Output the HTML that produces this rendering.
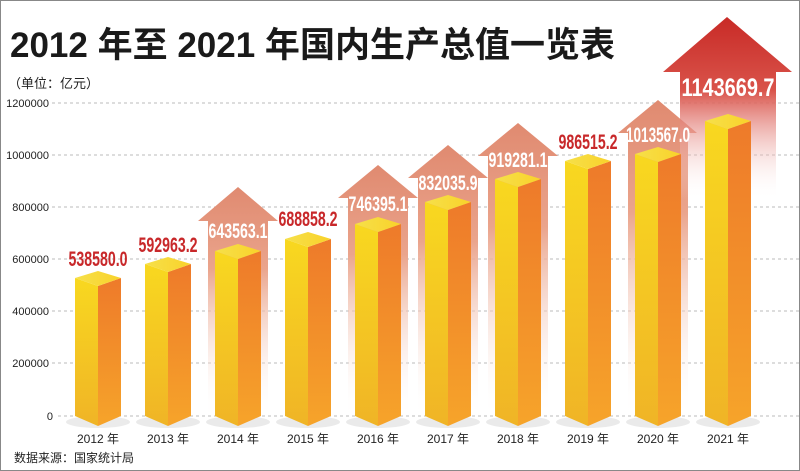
<!DOCTYPE html>
<html><head><meta charset="utf-8"><style>
body{margin:0;background:#fff}
svg{display:block}
.ax{font-family:"Liberation Sans Narrow","Liberation Sans",sans-serif;font-size:11px;fill:#222}
.yr{font-family:"Liberation Sans","Noto Sans CJK SC",sans-serif;font-size:12px;fill:#222}
.v{font-family:"Liberation Sans Narrow","Liberation Sans",sans-serif;font-weight:bold;font-size:21px}
</style></head><body>
<svg width="800" height="471" viewBox="0 0 800 471" xmlns="http://www.w3.org/2000/svg">
<defs>
<linearGradient id="ar" x1="0" y1="0" x2="0" y2="1">
<stop offset="0" stop-color="#e08a70"/><stop offset="0.35" stop-color="#eaa48c"/><stop offset="1" stop-color="#fff" stop-opacity="0"/></linearGradient>
<linearGradient id="arR" x1="0" y1="0" x2="0" y2="1">
<stop offset="0" stop-color="#c82a26"/><stop offset="0.4" stop-color="#d9534a"/><stop offset="1" stop-color="#fff" stop-opacity="0"/></linearGradient>
<linearGradient id="lf" x1="0" y1="0" x2="0" y2="1"><stop offset="0" stop-color="#f8d820"/><stop offset="1" stop-color="#f0b426"/></linearGradient>
<linearGradient id="rf" x1="0" y1="0" x2="0" y2="1"><stop offset="0" stop-color="#ee7a2a"/><stop offset="1" stop-color="#f6a42a"/></linearGradient>
<linearGradient id="tp" x1="0" y1="0" x2="1" y2="0"><stop offset="0" stop-color="#f6e04a"/><stop offset="1" stop-color="#f9d22a"/></linearGradient>
</defs>
<rect x="0.5" y="0.5" width="799" height="470" fill="#fff" stroke="#888"/>
<text x="10" y="57" font-family="Liberation Sans,'Noto Sans CJK SC',sans-serif" font-weight="bold" font-size="35" fill="#1a1a1a" textLength="605" lengthAdjust="spacingAndGlyphs">2012 年至 2021 年国内生产总值一览表</text>
<text x="8" y="88" font-family="Liberation Sans,'Noto Sans CJK SC',sans-serif" font-size="13" fill="#222">（单位：亿元）</text>
<g stroke="#bbb" stroke-dasharray="3,3" stroke-width="1">
<line x1="52" y1="103" x2="800" y2="103"/><line x1="52" y1="155" x2="800" y2="155"/><line x1="52" y1="207" x2="800" y2="207"/><line x1="52" y1="259" x2="800" y2="259"/><line x1="52" y1="311" x2="800" y2="311"/><line x1="52" y1="363" x2="800" y2="363"/><line x1="58" y1="416" x2="800" y2="416"/>
</g>
<g class="ax" text-anchor="end">
<text x="49" y="107">1200000</text><text x="49" y="159">1000000</text><text x="49" y="211">800000</text><text x="49" y="263">600000</text><text x="49" y="315">400000</text><text x="49" y="367">200000</text><text x="53" y="420">0</text>
</g>
<g fill="url(#ar)">
<polygon points="238,187 278,221 268,221 268,420 208,420 208,221 198,221"/>
<polygon points="378,165 418,198 408,198 408,420 348,420 348,198 338,198"/>
<polygon points="448,145 488,178 478,178 478,420 418,420 418,178 408,178"/>
<polygon points="518,123 558,156 548,156 548,420 488,420 488,156 478,156"/>
<polygon points="658,100 697,133 688,133 688,420 628,420 628,133 618,133"/>
</g>
<polygon fill="url(#arR)" points="727,17 792,72 776,72 776,200 680,200 680,72 663,72"/>
<g fill="#ddd" opacity="0.6">
<ellipse cx="98" cy="422" rx="32" ry="6"/><ellipse cx="168" cy="422" rx="32" ry="6"/><ellipse cx="238" cy="422" rx="32" ry="6"/><ellipse cx="308" cy="422" rx="32" ry="6"/><ellipse cx="378" cy="422" rx="32" ry="6"/><ellipse cx="448" cy="422" rx="32" ry="6"/><ellipse cx="518" cy="422" rx="32" ry="6"/><ellipse cx="588" cy="422" rx="32" ry="6"/><ellipse cx="658" cy="422" rx="32" ry="6"/><ellipse cx="728" cy="422" rx="32" ry="6"/>
</g>
<g>
<g transform="translate(98,278)"><polygon fill="url(#lf)" points="-23,0 0,8 0,148 -23,138"/><polygon fill="url(#rf)" points="0,8 23,0 23,138 0,148"/><polygon fill="url(#tp)" points="-23,0 0,-7 23,0 0,8"/></g>
<g transform="translate(168,264)"><polygon fill="url(#lf)" points="-23,0 0,8 0,162 -23,152"/><polygon fill="url(#rf)" points="0,8 23,0 23,152 0,162"/><polygon fill="url(#tp)" points="-23,0 0,-7 23,0 0,8"/></g>
<g transform="translate(238,251)"><polygon fill="url(#lf)" points="-23,0 0,8 0,175 -23,165"/><polygon fill="url(#rf)" points="0,8 23,0 23,165 0,175"/><polygon fill="url(#tp)" points="-23,0 0,-7 23,0 0,8"/></g>
<g transform="translate(308,239)"><polygon fill="url(#lf)" points="-23,0 0,8 0,187 -23,177"/><polygon fill="url(#rf)" points="0,8 23,0 23,177 0,187"/><polygon fill="url(#tp)" points="-23,0 0,-7 23,0 0,8"/></g>
<g transform="translate(378,224)"><polygon fill="url(#lf)" points="-23,0 0,8 0,202 -23,192"/><polygon fill="url(#rf)" points="0,8 23,0 23,192 0,202"/><polygon fill="url(#tp)" points="-23,0 0,-7 23,0 0,8"/></g>
<g transform="translate(448,202)"><polygon fill="url(#lf)" points="-23,0 0,8 0,224 -23,214"/><polygon fill="url(#rf)" points="0,8 23,0 23,214 0,224"/><polygon fill="url(#tp)" points="-23,0 0,-7 23,0 0,8"/></g>
<g transform="translate(518,179)"><polygon fill="url(#lf)" points="-23,0 0,8 0,247 -23,237"/><polygon fill="url(#rf)" points="0,8 23,0 23,237 0,247"/><polygon fill="url(#tp)" points="-23,0 0,-7 23,0 0,8"/></g>
<g transform="translate(588,161)"><polygon fill="url(#lf)" points="-23,0 0,8 0,265 -23,255"/><polygon fill="url(#rf)" points="0,8 23,0 23,255 0,265"/><polygon fill="url(#tp)" points="-23,0 0,-7 23,0 0,8"/></g>
<g transform="translate(658,154)"><polygon fill="url(#lf)" points="-23,0 0,8 0,272 -23,262"/><polygon fill="url(#rf)" points="0,8 23,0 23,262 0,272"/><polygon fill="url(#tp)" points="-23,0 0,-7 23,0 0,8"/></g>
<g transform="translate(728,121)"><polygon fill="url(#lf)" points="-23,0 0,8 0,305 -23,295"/><polygon fill="url(#rf)" points="0,8 23,0 23,295 0,305"/><polygon fill="url(#tp)" points="-23,0 0,-7 23,0 0,8"/></g>
</g>
<g class="v" text-anchor="middle">
<text x="98" y="266" fill="#c8282a" textLength="59" lengthAdjust="spacingAndGlyphs">538580.0</text>
<text x="168" y="252" fill="#c8282a" textLength="59" lengthAdjust="spacingAndGlyphs">592963.2</text>
<text x="238" y="238" fill="#fff" textLength="59" lengthAdjust="spacingAndGlyphs">643563.1</text>
<text x="308" y="226" fill="#c8282a" textLength="59" lengthAdjust="spacingAndGlyphs">688858.2</text>
<text x="378" y="211" fill="#fff" textLength="59" lengthAdjust="spacingAndGlyphs">746395.1</text>
<text x="448" y="190" fill="#fff" textLength="59" lengthAdjust="spacingAndGlyphs">832035.9</text>
<text x="518" y="167" fill="#fff" textLength="59" lengthAdjust="spacingAndGlyphs">919281.1</text>
<text x="588" y="149" fill="#c8282a" textLength="59" lengthAdjust="spacingAndGlyphs">986515.2</text>
<text x="658" y="142" fill="#fff" textLength="64" lengthAdjust="spacingAndGlyphs">1013567.0</text>
<text x="728" y="96" fill="#fff" font-size="25" textLength="93" lengthAdjust="spacingAndGlyphs">1143669.7</text>
</g>
<g class="yr" text-anchor="middle">
<text x="98" y="443">2012 年</text><text x="168" y="443">2013 年</text><text x="238" y="443">2014 年</text><text x="308" y="443">2015 年</text><text x="378" y="443">2016 年</text><text x="448" y="443">2017 年</text><text x="518" y="443">2018 年</text><text x="588" y="443">2019 年</text><text x="658" y="443">2020 年</text><text x="728" y="443">2021 年</text>
</g>
<text x="14" y="462" font-family="Liberation Sans,'Noto Sans CJK SC',sans-serif" font-size="12" fill="#222">数据来源：国家统计局</text>
</svg>
</body></html>
